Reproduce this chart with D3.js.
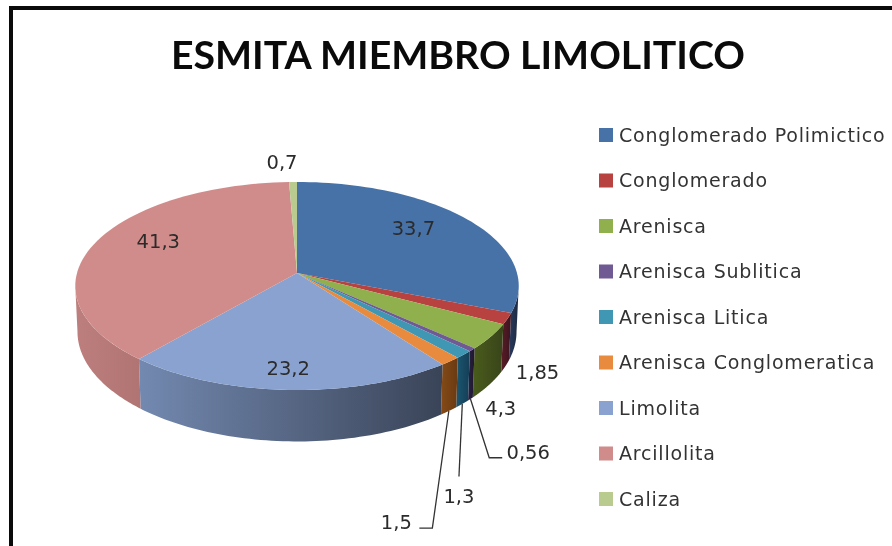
<!DOCTYPE html>
<html>
<head>
<meta charset="utf-8">
<script src="https://cdn.jsdelivr.net/npm/d3@7"></script>
<style>
  html, body { margin: 0; padding: 0; background: #fff; }
  svg { display: block; filter: blur(0.35px); }
</style>
</head>
<body>
<div id="uno"></div>
<script>
var categories = ["Conglomerado Polimictico", "Conglomerado", "Arenisca", "Arenisca Sublitica",
    "Arenisca Litica", "Arenisca Conglomeratica", "Limolita", "Arcillolita", "Caliza"];
var values = [33.7, 1.85, 4.3, 0.56, 1.3, 1.5, 23.2, 41.3, 0.7];
var valueLabels = ["33,7", "1,85", "4,3", "0,56", "1,3", "1,5", "23,2", "41,3", "0,7"];
var topColors = ["#4672a8", "#b8423f", "#8fb04c", "#6f5a94", "#3f97b4", "#e98b3e", "#8aa2cf", "#d08c8a", "#b9cb8f"];
var wallLeft = ["#2a3a5c", "#5a1c26", "#4a5c1c", "#2a2040", "#1c5670", "#854a16", "#7389b0", "#bd7f7d", "#b9cb8f"];
var wallRight = ["#1c2840", "#3a1420", "#38441a", "#1e1830", "#143e56", "#6a3a12", "#3a4458", "#b07473", "#b9cb8f"];

// label offsets from the slice rim point, layout only
var labelOffsets = [[-54, 9], [30, 53], [10, 71], [56, 102], [-5, 142], [-54, 161], [0, -22], [61, 0], [-11, -20]];
var leaders = {3: [[-39, 6], [-26, 6]], 4: [[0, -20]], 5: [[36, 6], [23, 6]]};

var width = 892;
var height = 546;
var cx = 297, cy = 273;
var rx = 220, ry = 102.4, persp = 0.125, depth = 45;

var svg = d3.select("#uno")
    .append("svg")
    .attr("width", width)
    .attr("height", height);

var defs = svg.append("defs");

// frame
svg.append("rect").attr("x", 9).attr("y", 6).attr("width", width).attr("height", 4).attr("fill", "#0a0a0a");
svg.append("rect").attr("x", 9).attr("y", 6).attr("width", 4).attr("height", height).attr("fill", "#0a0a0a");

svg.append("text")
    .attr("x", 458)
    .attr("y", 69)
    .attr("text-anchor", "middle")
    .attr("textLength", 574)
    .attr("lengthAdjust", "spacingAndGlyphs")
    .style("font-family", "Lato")
    .style("font-weight", 700)
    .style("font-size", "39px")
    .style("fill", "#0a0a0a")
    .text("ESMITA MIEMBRO LIMOLITICO");

// circle angle to screen, near side is drawn larger
function project(a, r, down) {
    var u = Math.sin(a) * r, v = -Math.cos(a) * r;
    var d = 1 - persp * v;
    var shrink = down ? 0.99 : 1;
    return [cx + rx * shrink * u / d, cy + ry * v / d + (down ? depth / d : 0)];
}

var pie = d3.pie().sort(null).value(function (d) { return d; });
var arcs = pie(values);
var line = d3.line();

function arcPoints(a0, a1, r, down) {
    return d3.range(0, 61).map(function (i) {
        return project(a0 + (a1 - a0) * i / 60, r, down);
    });
}

// front wall runs between the widest points of the ellipse
var wallFrom = Math.PI / 2 + Math.asin(persp);
var wallTo = 2 * Math.PI - wallFrom;

var walls = svg.append("g");
arcs.forEach(function (d, i) {
    var a0 = Math.max(d.startAngle, wallFrom);
    var a1 = Math.min(d.endAngle, wallTo);
    if (a1 <= a0) return;
    var top = arcPoints(a0, a1, 1, false);
    var bottom = arcPoints(a1, a0, 1, true);
    var xs = d3.extent(top.concat(bottom), function (p) { return p[0]; });
    var grad = defs.append("linearGradient")
        .attr("id", "wall" + i)
        .attr("gradientUnits", "userSpaceOnUse")
        .attr("x1", xs[0]).attr("x2", xs[1])
        .attr("y1", 0).attr("y2", 0);
    grad.append("stop").attr("offset", 0).attr("stop-color", wallLeft[i]);
    grad.append("stop").attr("offset", 1).attr("stop-color", wallRight[i]);
    walls.append("path")
        .attr("d", line(top.concat(bottom)) + "Z")
        .attr("fill", "url(#wall" + i + ")");
});

svg.append("g").selectAll("path")
    .data(arcs)
    .enter()
    .append("path")
    .attr("d", function (d) {
        return line([[cx, cy]].concat(arcPoints(d.startAngle, d.endAngle, 1, false))) + "Z";
    })
    .attr("fill", function (d, i) { return topColors[i]; });

// leader lines
var labelPos = arcs.map(function (d, i) {
    var p = project((d.startAngle + d.endAngle) / 2, 1, false);
    return [p[0] + labelOffsets[i][0], p[1] + labelOffsets[i][1]];
});
Object.keys(leaders).forEach(function (k) {
    var d = arcs[k];
    var start = project((d.startAngle + d.endAngle) / 2, 1, true);
    var pts = [start].concat(leaders[k].map(function (o) {
        return [labelPos[k][0] + o[0], labelPos[k][1] + o[1]];
    }));
    svg.append("path")
        .attr("d", line(pts))
        .attr("fill", "none")
        .attr("stroke", "#333")
        .attr("stroke-width", 1.3);
});

svg.append("g").selectAll("text")
    .data(valueLabels)
    .enter()
    .append("text")
    .attr("x", function (d, i) { return labelPos[i][0]; })
    .attr("y", function (d, i) { return labelPos[i][1]; })
    .attr("dy", "0.36em")
    .attr("text-anchor", "middle")
    .style("font-family", "'DejaVu Sans'")
    .style("font-size", "19.5px")
    .style("fill", "#2b2b2b")
    .text(function (d) { return d; });

// legend
var legendY = d3.scalePoint().domain(categories).range([135, 499]);
var legend = svg.append("g").selectAll("g")
    .data(categories)
    .enter()
    .append("g")
    .attr("transform", function (d) { return "translate(599," + legendY(d) + ")"; });
legend.append("rect")
    .attr("y", -7)
    .attr("width", 14)
    .attr("height", 14)
    .attr("fill", function (d, i) { return topColors[i]; });
legend.append("text")
    .attr("x", 20)
    .attr("dy", "0.36em")
    .style("font-family", "'DejaVu Sans'")
    .style("font-size", "19px")
    .style("letter-spacing", "0.8px")
    .style("fill", "#333")
    .text(function (d) { return d; });
</script>
</body>
</html>
